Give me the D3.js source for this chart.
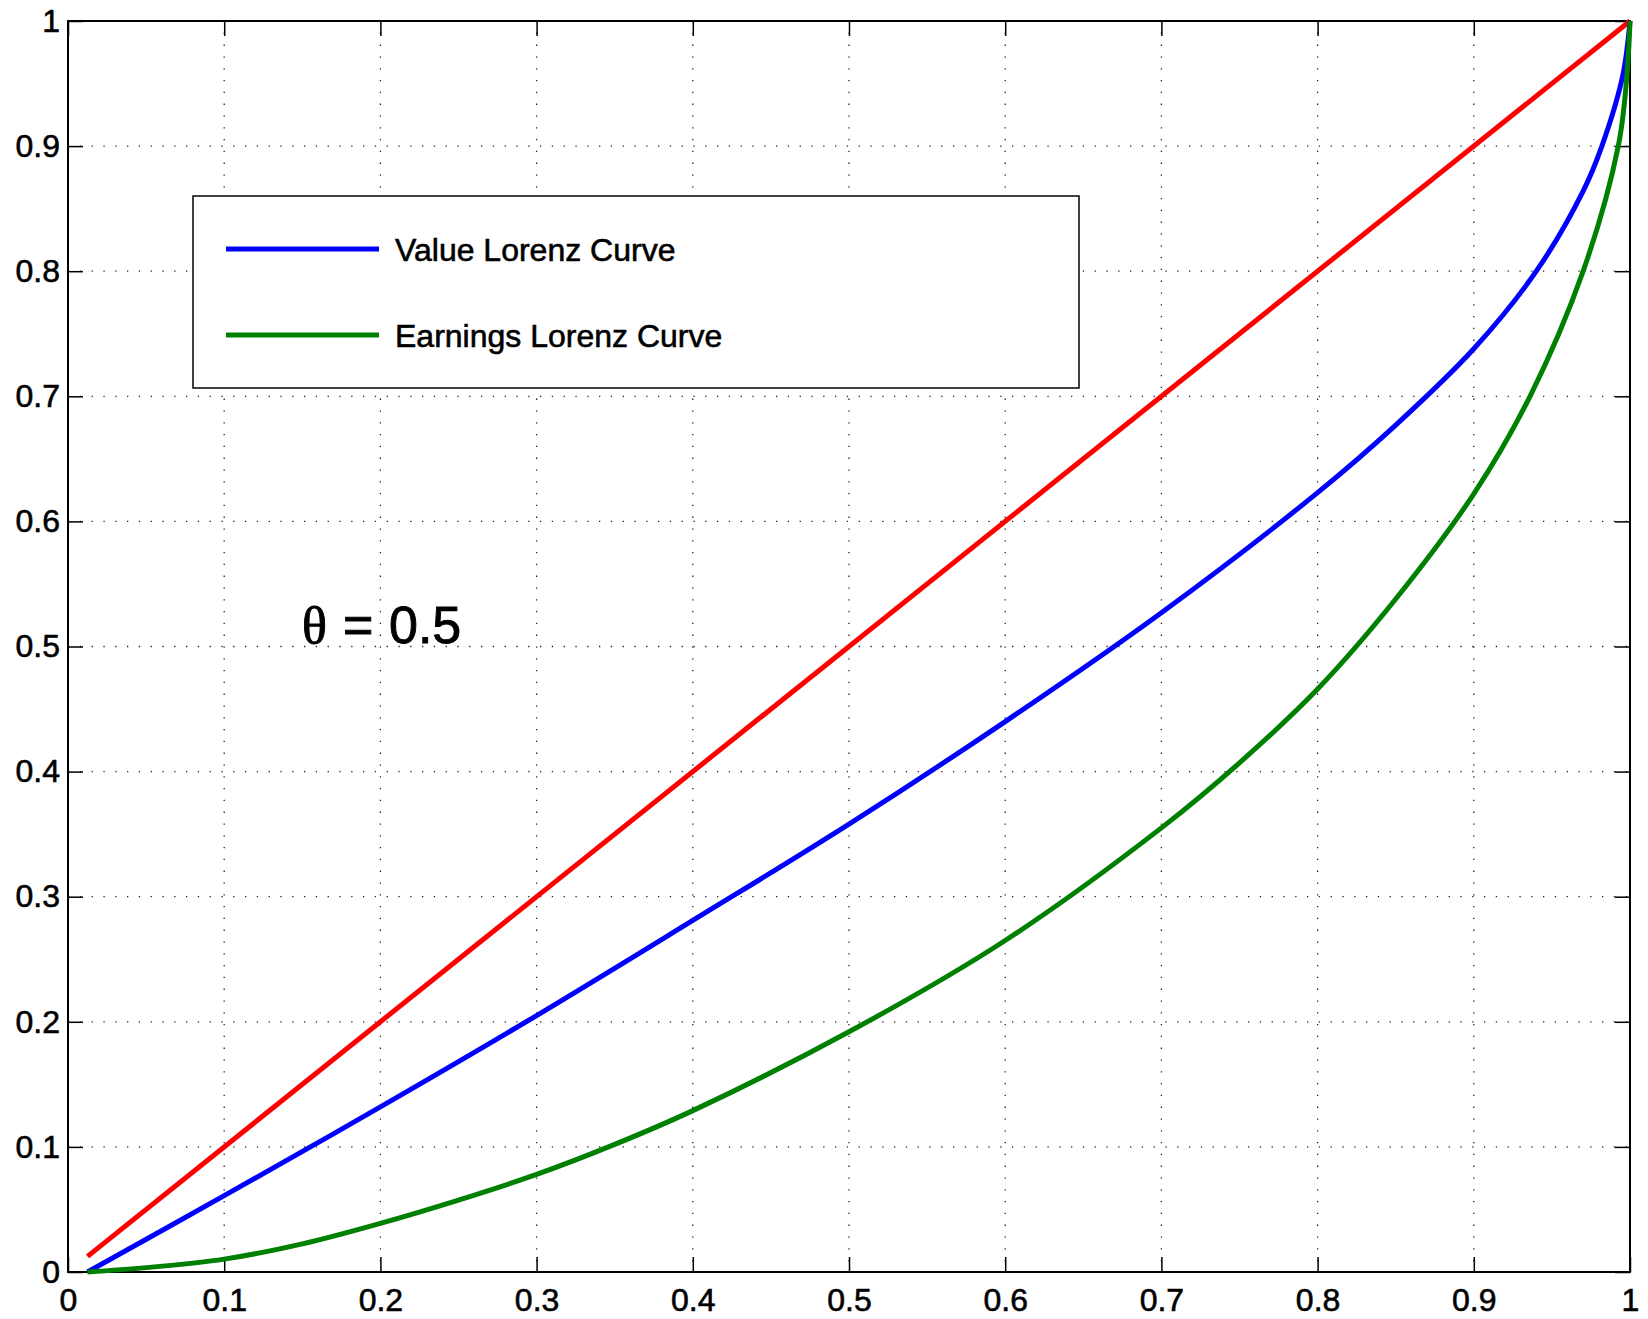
<!DOCTYPE html>
<html>
<head>
<meta charset="utf-8">
<script src="https://cdn.jsdelivr.net/npm/d3@7"></script>
<style>
	body { margin: 0; background: #fff; }
	text { font-family: "Liberation Sans", Arial, sans-serif; fill: #000; stroke: #000; stroke-width: 0.6px; }
</style>
</head>
<body>
<svg></svg>
<script>
const margin = {
	"top": 21,
	"right": 18,
	"bottom": 47,
	"left": 68
}

const width = 1648 - margin.left - margin.right;
const height = 1319 - margin.top - margin.bottom;

// tick positions and labels (both axes share them)
const tickValues = [0, 0.1, 0.2, 0.3, 0.4, 0.5, 0.6, 0.7, 0.8, 0.9, 1];
const tickLabels = ["0", "0.1", "0.2", "0.3", "0.4", "0.5", "0.6", "0.7", "0.8", "0.9", "1"];

// 45 degree equality line
const equalityX = [0.0125, 1];
const equalityY = [0.0125, 1];

// value Lorenz curve
const valueX = [0.0125, 0.1, 0.2, 0.3, 0.4, 0.5, 0.6, 0.7, 0.8, 0.85, 0.9, 0.94, 0.97, 0.982, 0.9953, 1];
const valueY = [0, 0.061, 0.132, 0.205, 0.281, 0.358, 0.44, 0.527, 0.623, 0.677, 0.738, 0.80, 0.864, 0.90, 0.956, 1];

// earnings Lorenz curve
const earningsX = [0.0125, 0.05, 0.1, 0.15, 0.2, 0.25, 0.3, 0.35, 0.4, 0.5, 0.6, 0.7, 0.75, 0.8, 0.85, 0.9, 0.936, 0.97, 0.9925, 0.998, 1];
const earningsY = [0, 0.0035, 0.0103, 0.0225, 0.0389, 0.0575, 0.078, 0.102, 0.129, 0.192, 0.265, 0.355, 0.407, 0.466, 0.538, 0.622, 0.70, 0.80, 0.90, 0.956, 1];

const legendLabels = ["Value Lorenz Curve", "Earnings Lorenz Curve"];
const annotation = ["\u03B8", "=", "0.5"];

function zip(xs, ys) {
	return xs.map((x, i) => ({ "x": x, "y": ys[i] }));
}

function draw() {
	let svg = d3.select("svg")
		.attr('width', 1648)
		.attr('height', 1319);

	let g = svg.append('g')
		.attr('transform', 'translate(' + margin.left + ',' + margin.top + ')');

	let scaleX = d3.scaleLinear().domain([0, 1]).range([0, width]);
	let scaleY = d3.scaleLinear().domain([0, 1]).range([height, 0]);

	// dotted grid
	let inner = tickValues.slice(1, -1);
	g.append('g').selectAll('line').data(inner).join('line')
		.attr('x1', d => scaleX(d)).attr('x2', d => scaleX(d))
		.attr('y1', 0).attr('y2', height)
		.attr('stroke', '#222').attr('stroke-width', 1.3)
		.attr('stroke-dasharray', '1.3,10.5');
	g.append('g').selectAll('line').data(inner).join('line')
		.attr('x1', 0).attr('x2', width)
		.attr('y1', d => scaleY(d)).attr('y2', d => scaleY(d))
		.attr('stroke', '#222').attr('stroke-width', 1.3)
		.attr('stroke-dasharray', '1.3,10.5');

	// axes, ticks inside
	let fmt = d => tickLabels[tickValues.indexOf(d)];
	let styleAxis = sel => {
		sel.select('.domain').remove();
		sel.selectAll('.tick line').attr('stroke', '#000').attr('stroke-width', 1.5);
		sel.selectAll('.tick text')
			.style('font-size', '32px')
			.style('font-family', '"Liberation Sans", Arial, sans-serif')
			.attr('stroke', '#000').attr('stroke-width', 0.7);
	};

	g.append('g')
		.attr('transform', 'translate(0,' + height + ')')
		.call(d3.axisBottom(scaleX).tickValues(tickValues).tickFormat(fmt).tickSize(-15).tickPadding(16))
		.call(styleAxis);
	g.append('g')
		.call(d3.axisLeft(scaleY).tickValues(tickValues).tickFormat(fmt).tickSize(-15).tickPadding(8))
		.call(styleAxis);
	g.append('g')
		.call(d3.axisTop(scaleX).tickValues(tickValues).tickFormat('').tickSize(-15))
		.call(styleAxis);
	g.append('g')
		.attr('transform', 'translate(' + width + ',0)')
		.call(d3.axisRight(scaleY).tickValues(tickValues).tickFormat('').tickSize(-15))
		.call(styleAxis);

	g.append('rect')
		.attr('x', 0).attr('y', 0)
		.attr('width', width).attr('height', height)
		.attr('fill', 'none').attr('stroke', '#000').attr('stroke-width', 2);

	// curves
	let line = d3.line()
		.x(d => scaleX(d.x))
		.y(d => scaleY(d.y))
		.curve(d3.curveCatmullRom.alpha(0.5));

	let series = [
		{ "data": zip(equalityX, equalityY), "color": "#ff0000" },
		{ "data": zip(valueX, valueY), "color": "#0000ff" },
		{ "data": zip(earningsX, earningsY), "color": "#008000" }
	];
	g.append('g').selectAll('path').data(series).join('path')
		.attr('d', d => line(d.data))
		.attr('fill', 'none')
		.attr('stroke', d => d.color)
		.attr('stroke-width', 5);

	// legend
	let legend = svg.append('g').attr('transform', 'translate(193,196)');
	legend.append('rect')
		.attr('width', 886).attr('height', 192)
		.attr('fill', '#fff').attr('stroke', '#000').attr('stroke-width', 1.5);
	let legendColors = ["#0000ff", "#008000"];
	legendLabels.forEach((label, i) => {
		let yy = 53 + i * 86;
		legend.append('line')
			.attr('x1', 33).attr('x2', 186)
			.attr('y1', yy).attr('y2', yy)
			.attr('stroke', legendColors[i]).attr('stroke-width', 5);
		legend.append('text')
			.attr('x', 202).attr('y', yy)
			.attr('dy', '0.36em')
			.style('font-size', '32px')
			.text(label);
	});

	// theta annotation
	let t = svg.append('text')
		.attr('y', 643)
		.style('font-size', '52px')
		.style('stroke-width', '0.9px');
	t.append('tspan').attr('x', 302)
		.style('font-family', '"Liberation Serif", "Times New Roman", serif')
		.text(annotation[0]);
	t.append('tspan').attr('x', 343).text(annotation[1]);
	t.append('tspan').attr('x', 389).text(annotation[2]);
}

draw();
</script>
</body>
</html>
